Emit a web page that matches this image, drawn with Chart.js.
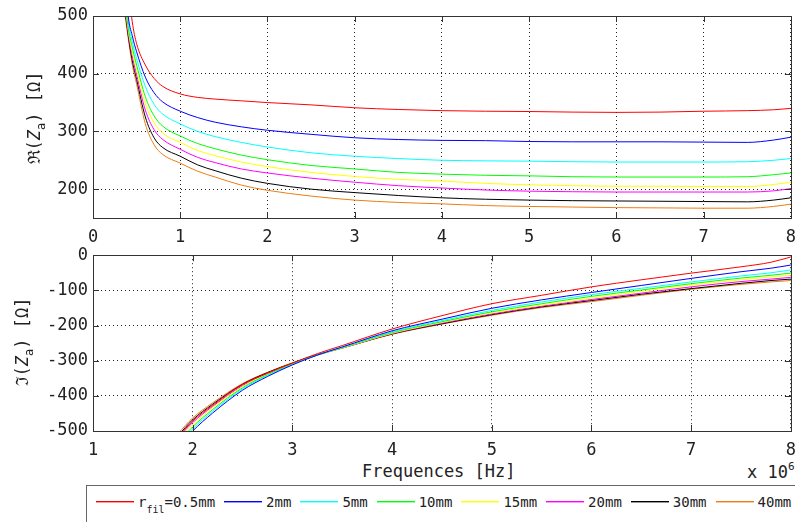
<!DOCTYPE html>
<html>
<head>
<meta charset="utf-8">
<script src="https://cdn.jsdelivr.net/npm/chart.js@4.4.0/dist/chart.umd.min.js"></script>
<style>
  body { margin:0; width:795px; height:522px; overflow:hidden; background:#fff; position:relative;
         font-family:"DejaVu Sans Mono", monospace; color:#222; }
  canvas { position:absolute; left:0; }
  #top { top:0; }
  #bot { top:240px; }
  .lbl { position:absolute; font-size:17px; line-height:17px; white-space:pre; }
  .ytitle { transform:translate(-50%,-50%) rotate(-90deg); }
  .sb { font-size:12px; position:relative; top:5px; }
  .sp { font-size:11px; position:relative; top:-8px; }
  #legend { position:absolute; left:86px; top:485px; width:740px; height:40px; border:1px solid #666;
            display:flex; align-items:flex-start; padding-left:9px; font-size:14px; line-height:14px; }
  .sw { display:block; flex:none; width:38px; height:1px; margin-top:15px; margin-right:4px; }
  .tx { margin-top:9px; margin-right:9px; white-space:pre; }
  .tx sub { font-size:10px; vertical-align:-6px; line-height:0; }
</style>
</head>
<body>
<canvas id="top" width="805" height="245"></canvas>
<canvas id="bot" width="805" height="220"></canvas>

<div class="lbl ytitle" style="left:35px;top:118px">ℜ(<i>Z</i><span class="sb">a</span>) [Ω]</div>
<div class="lbl ytitle" style="left:23px;top:342px">ℑ(<i>Z</i><span class="sb">a</span>) [Ω]</div>
<div class="lbl" style="left:362px;top:463px">Frequences [Hz]</div>
<div class="lbl" style="left:747px;top:464px">x 10<span class="sp">6</span></div>
<div id="legend"></div>

<script>
// frequencies in MHz (x 10^6)
const topFreq = [0.35, 0.4, 0.45, 0.5, 0.6, 0.7, 0.8, 1.0, 1.2, 1.4, 1.7, 2, 2.5, 3, 3.5, 4, 4.5, 5, 5.5, 6, 6.5, 7, 7.5, 7.8, 8];
const botFreq = [1.85, 2, 2.2, 2.5, 2.75, 3, 3.25, 3.5, 4, 4.5, 5, 5.5, 6, 6.5, 7, 7.5, 7.8, 8];

const radii = ['0.5mm', '2mm', '5mm', '10mm', '15mm', '20mm', '30mm', '40mm'];
const colors = ['#ff0000', '#0000ff', '#00ffff', '#00ff00', '#ffff00', '#ff00ff', '#000000', '#eb7d14'];

// real part of Za [Ohm]
const re05 = [680, 560, 490, 452, 415, 392, 378, 365, 359, 356, 353, 350, 346, 341, 338, 336, 335, 334.5, 333.5, 333, 333.5, 335, 336, 337.5, 340];
const re2  = [620, 505, 466, 438, 394, 367, 351, 335, 324, 316, 308, 302, 295, 289, 286, 284.5, 284, 282.5, 282, 282, 282, 281.5, 281, 285, 290];
const re5  = [580, 495, 456, 426, 378, 347, 330, 313, 300, 291, 281, 273, 263, 257, 253, 250, 249, 248.5, 247.5, 247, 247, 247, 247.5, 250, 253];
const re10 = [560, 485, 446, 415, 360, 327, 309, 292, 279, 270, 259, 251, 241, 235, 229, 226, 224, 223, 221.5, 221, 221, 221, 221.5, 225, 228];
const re15 = [550, 480, 438, 407, 348, 315, 297, 281, 267, 258, 247, 239, 229, 222, 217, 214, 210, 207.5, 206, 205, 205, 204.5, 204.5, 208, 212];
const re20 = [540, 475, 431, 398, 337, 303, 286, 269, 255, 246, 235, 228, 219, 212, 206, 202, 198.5, 196.5, 195.5, 195, 195, 195, 195, 197, 201];
const re30 = [530, 470, 423, 390, 325, 289, 272, 257, 242, 232, 219, 210, 200, 194, 189, 185, 182.5, 181, 180, 179.5, 179, 178.5, 178, 181, 185];
const re40 = [520, 465, 416, 382, 313, 277, 260, 245, 231, 221, 207, 198, 188, 181, 177, 174.5, 171.5, 170, 169, 168, 167.5, 167, 167, 170, 174];

// imaginary part of Za [Ohm]
const im05 = [-518, -472, -427, -368, -336, -307, -280, -257, -210, -172, -138, -114, -90, -70, -51, -33, -20, -5];
const im2  = [-548, -500, -449, -384, -345, -312, -284, -261, -215, -182, -151, -127, -106, -86, -66, -47, -37, -28];
const im5  = [-540, -494, -444, -380, -342, -311, -284, -262, -218, -186, -157, -133, -112, -94, -76, -59, -50, -42];
const im10 = [-533, -488, -439, -377, -340, -310, -284, -263, -220, -189, -161, -138, -117, -99, -81, -65, -57, -51];
const im15 = [-527, -482, -434, -374, -338, -309, -284, -264, -222, -191, -164, -142, -122, -103, -85, -70, -62, -57];
const im20 = [-521, -476, -430, -371, -336, -308, -284, -264, -223, -193, -167, -145, -126, -108, -90, -75, -68, -63];
const im30 = [-514, -468, -424, -367, -334, -307, -283, -264, -224, -195, -169, -147, -129, -111, -95, -80, -72, -68];
const im40 = [-508, -463, -420, -365, -333, -306, -283, -264, -225, -196, -171, -149, -132, -114, -97, -83, -76, -72];

const topXTicks = [0, 1, 2, 3, 4, 5, 6, 7, 8];
const topYTicks = [200, 300, 400, 500];
const botXTicks = [1, 2, 3, 4, 5, 6, 7, 8];
const botYTicks = [-500, -400, -300, -200, -100, 0];

const reSeries = [re05, re2, re5, re10, re15, re20, re30, re40];
const imSeries = [im05, im2, im5, im10, im15, im20, im30, im40];

const tickFont = { family: 'DejaVu Sans Mono', size: 17 };

// matlab style box with inward tick marks
const frame = {
  id: 'frame',
  afterDraw(chart) {
    const { ctx, chartArea: a, scales: { x, y } } = chart;
    ctx.save();
    ctx.strokeStyle = '#333';
    ctx.lineWidth = 1;
    ctx.beginPath();
    x.ticks.forEach(t => {
      const p = Math.round(x.getPixelForValue(t.value)) + 0.5;
      ctx.moveTo(p, a.bottom); ctx.lineTo(p, a.bottom - 6);
      ctx.moveTo(p, a.top); ctx.lineTo(p, a.top + 6);
    });
    y.ticks.forEach(t => {
      const p = Math.round(y.getPixelForValue(t.value)) + 0.5;
      ctx.moveTo(a.left, p); ctx.lineTo(a.left + 6, p);
      ctx.moveTo(a.right, p); ctx.lineTo(a.right - 6, p);
    });
    ctx.stroke();
    ctx.strokeRect(Math.round(a.left) + 0.5, Math.round(a.top) + 0.5,
                   Math.round(a.right - a.left), Math.round(a.bottom - a.top));
    ctx.restore();
  }
};

function makeChart(id, freq, series, xr, yr, xt, yt, pad, xh) {
  new Chart(document.getElementById(id), {
    type: 'line',
    data: {
      datasets: series.map((s, i) => ({
        label: radii[i],
        data: s.map((v, k) => ({ x: freq[k], y: v })),
        borderColor: colors[i],
        borderWidth: 1,
        pointRadius: 0,
        cubicInterpolationMode: 'monotone'
      }))
    },
    options: {
      responsive: false,
      animation: false,
      layout: { padding: pad },
      plugins: { legend: { display: false }, tooltip: { enabled: false } },
      scales: {
        x: {
          type: 'linear', min: xr[0], max: xr[1],
          afterBuildTicks: s => { s.ticks = xt.map(v => ({ value: v })); },
          afterFit: s => { s.height = xh; },
          grid: { color: '#222', drawTicks: false },
          border: { display: false, dash: [1, 3] },
          ticks: { font: tickFont, color: '#222', padding: 9, maxRotation: 0 }
        },
        y: {
          min: yr[0], max: yr[1],
          afterBuildTicks: s => { s.ticks = yt.map(v => ({ value: v })); },
          afterFit: s => { s.width = 93; },
          grid: { color: '#222', drawTicks: false },
          border: { display: false, dash: [1, 3] },
          ticks: { font: tickFont, color: '#222', padding: 5 }
        }
      }
    },
    plugins: [frame]
  });
}

makeChart('top', topFreq, reSeries, [0, 8], [150, 500], topXTicks, topYTicks,
          { left: 0, right: 8, top: 16, bottom: 0 }, 27);
makeChart('bot', botFreq, imSeries, [1, 8], [-500, 0], botXTicks, botYTicks,
          { left: 0, right: 12, top: 10, bottom: 0 }, 29);

// legend
const legend = document.getElementById('legend');
radii.forEach((r, i) => {
  const sw = document.createElement('span');
  sw.className = 'sw';
  sw.style.background = colors[i];
  sw.style.boxShadow = '0 1px 0 ' + colors[i] + '66';
  const tx = document.createElement('span');
  tx.className = 'tx';
  tx.innerHTML = i === 0 ? 'r<sub>fil</sub>=' + r : r;
  legend.appendChild(sw);
  legend.appendChild(tx);
});
</script>
</body>
</html>
